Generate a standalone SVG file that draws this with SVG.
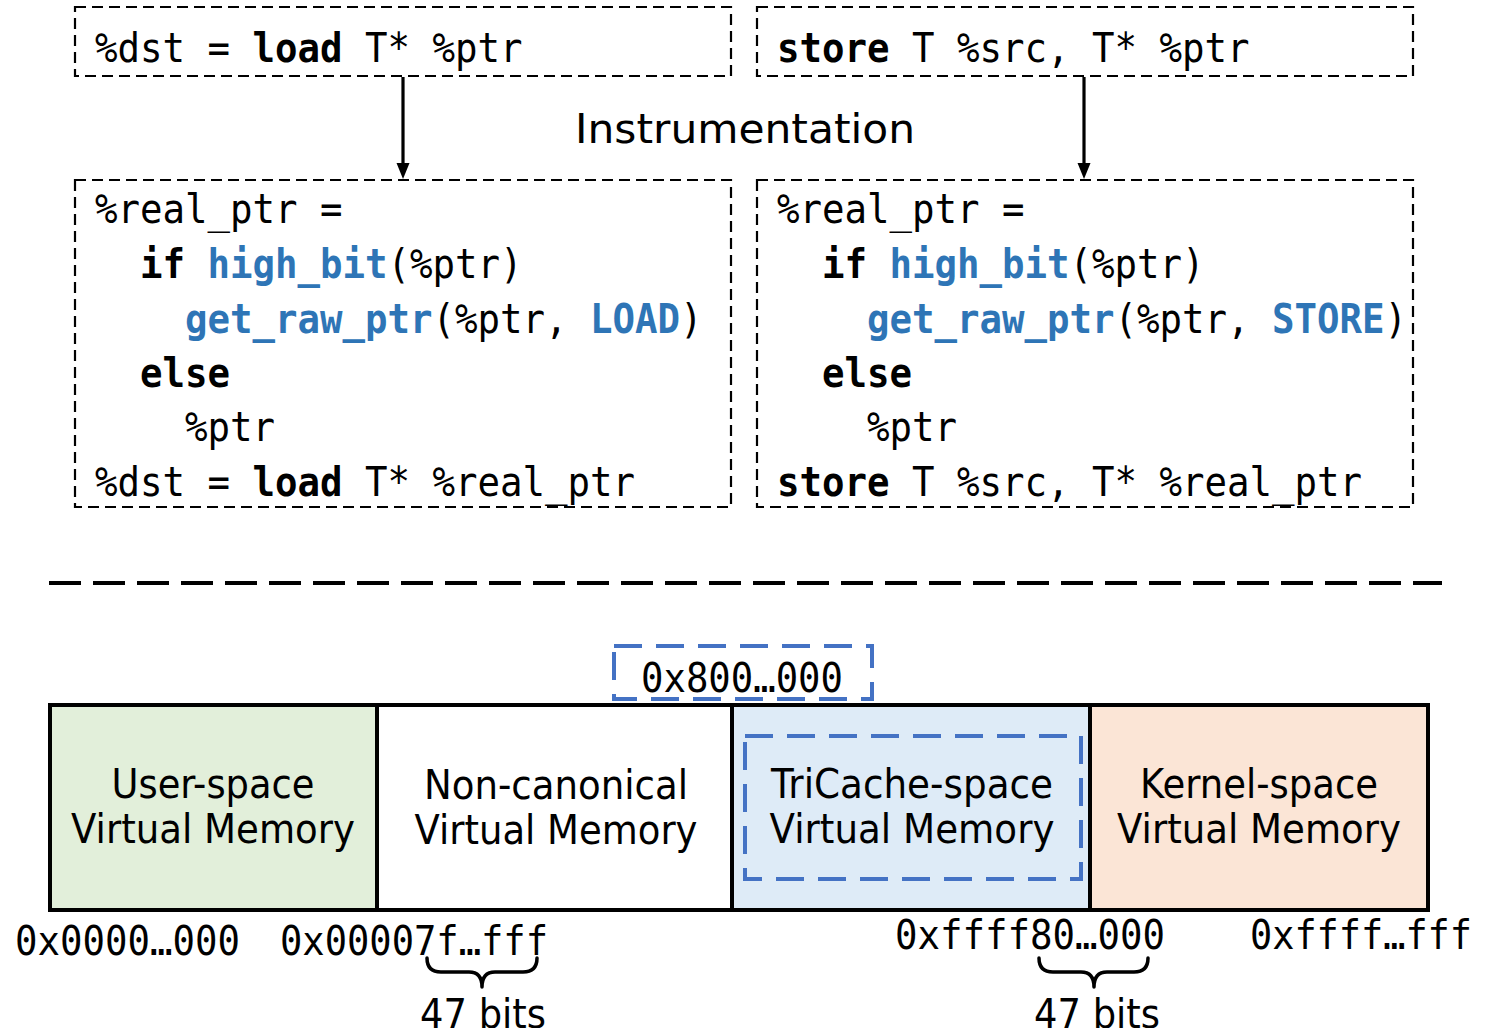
<svg xmlns="http://www.w3.org/2000/svg" width="1488" height="1028" viewBox="0 0 1488 1028">
  <defs>
    <style>
      .code { font-family: "DejaVu Sans Mono", "Liberation Mono", monospace; font-size: 40px; fill: #000; }
      .b { font-weight: bold; }
      .fn { font-weight: bold; fill: #2e75b6; }
      .lbl { font-family: "DejaVu Sans", "Noto Sans", sans-serif; font-size: 40px; fill: #000; text-anchor: middle; }
      .hex { font-family: "DejaVu Sans Mono", "Liberation Mono", monospace; font-size: 40px; fill: #000; }
      .dbox { fill: none; stroke: #000; stroke-width: 2.2; stroke-dasharray: 11 6; }
      .bluedash { fill: none; stroke: #4472c4; stroke-width: 4; stroke-dasharray: 28 14; }
      .brace { fill: none; stroke: #000; stroke-width: 3.5; stroke-linecap: round; stroke-linejoin: round; }
      .conn { stroke: #000; stroke-width: 3.2; }
    </style>
  </defs>

  <!-- original load instruction -->
  <g id="load-orig">
    <rect class="dbox" x="75" y="7" width="656" height="69"/>
    <text class="code" x="95" y="62" textLength="427.5" lengthAdjust="spacingAndGlyphs">%dst = <tspan class="b">load</tspan> T* %ptr</text>
  </g>

  <!-- original store instruction -->
  <g id="store-orig">
    <rect class="dbox" x="757" y="7" width="656" height="69"/>
    <text class="code" x="777" y="62" textLength="472.5" lengthAdjust="spacingAndGlyphs"><tspan class="b">store</tspan> T %src, T* %ptr</text>
  </g>

  <g id="instrumentation-label">
    <text class="lbl" x="745" y="143" font-size="44" textLength="340" lengthAdjust="spacingAndGlyphs">Instrumentation</text>
  </g>

  <!-- instrumented load -->
  <g id="load-instr">
    <rect class="dbox" x="75" y="180" width="656" height="327"/>
    <text class="code" x="95" y="223" textLength="247.5" lengthAdjust="spacingAndGlyphs">%real_ptr =</text>
    <text class="code" x="140" y="278" textLength="382.5" lengthAdjust="spacingAndGlyphs"><tspan class="b">if</tspan> <tspan class="fn">high_bit</tspan>(%ptr)</text>
    <text class="code" x="185" y="333" textLength="517.5" lengthAdjust="spacingAndGlyphs"><tspan class="fn">get_raw_ptr</tspan>(%ptr, <tspan class="fn">LOAD</tspan>)</text>
    <text class="code b" x="140" y="387" textLength="90" lengthAdjust="spacingAndGlyphs">else</text>
    <text class="code" x="185" y="441" textLength="90" lengthAdjust="spacingAndGlyphs">%ptr</text>
    <text class="code" x="95" y="496" textLength="540" lengthAdjust="spacingAndGlyphs">%dst = <tspan class="b">load</tspan> T* %real_ptr</text>
  </g>

  <!-- instrumented store -->
  <g id="store-instr">
    <rect class="dbox" x="757" y="180" width="656" height="327"/>
    <text class="code" x="777" y="223" textLength="247.5" lengthAdjust="spacingAndGlyphs">%real_ptr =</text>
    <text class="code" x="822" y="278" textLength="382.5" lengthAdjust="spacingAndGlyphs"><tspan class="b">if</tspan> <tspan class="fn">high_bit</tspan>(%ptr)</text>
    <text class="code" x="867" y="333" textLength="540" lengthAdjust="spacingAndGlyphs"><tspan class="fn">get_raw_ptr</tspan>(%ptr, <tspan class="fn">STORE</tspan>)</text>
    <text class="code b" x="822" y="387" textLength="90" lengthAdjust="spacingAndGlyphs">else</text>
    <text class="code" x="867" y="441" textLength="90" lengthAdjust="spacingAndGlyphs">%ptr</text>
    <text class="code" x="777" y="496" textLength="585" lengthAdjust="spacingAndGlyphs"><tspan class="b">store</tspan> T %src, T* %real_ptr</text>
  </g>

  <!-- connectors -->
  <g id="connectors">
    <line class="conn" x1="403" y1="77" x2="403" y2="165"/>
    <path d="M396.5,163 L409.5,163 L403,179 Z" fill="#000"/>
    <line class="conn" x1="1084" y1="77" x2="1084" y2="165"/>
    <path d="M1077.5,163 L1090.5,163 L1084,179 Z" fill="#000"/>
  </g>

  <!-- section separator -->
  <line id="separator" x1="49" y1="583" x2="1442" y2="583" stroke="#000" stroke-width="4" stroke-dasharray="32 12"/>

  <!-- address space bar -->
  <g id="user-space">
    <rect x="50" y="705" width="327" height="205" fill="#e2efda" stroke="#000" stroke-width="4"/>
    <text class="lbl" x="213" y="798" textLength="203" lengthAdjust="spacingAndGlyphs">User-space</text>
    <text class="lbl" x="213" y="843" textLength="284" lengthAdjust="spacingAndGlyphs">Virtual Memory</text>
  </g>
  <g id="non-canonical">
    <rect x="377" y="705" width="355" height="205" fill="#ffffff" stroke="#000" stroke-width="4"/>
    <text class="lbl" x="556" y="799" textLength="264" lengthAdjust="spacingAndGlyphs">Non-canonical</text>
    <text class="lbl" x="556" y="844" textLength="283" lengthAdjust="spacingAndGlyphs">Virtual Memory</text>
  </g>
  <g id="tricache-space">
    <rect x="732" y="705" width="358" height="205" fill="#deebf7" stroke="#000" stroke-width="4"/>
    <rect class="bluedash" x="745" y="736" width="336" height="143"/>
    <text class="lbl" x="912" y="798" textLength="282" lengthAdjust="spacingAndGlyphs">TriCache-space</text>
    <text class="lbl" x="912" y="843" textLength="285" lengthAdjust="spacingAndGlyphs">Virtual Memory</text>
  </g>
  <g id="kernel-space">
    <rect x="1090" y="705" width="338" height="205" fill="#fbe5d6" stroke="#000" stroke-width="4"/>
    <text class="lbl" x="1259" y="798" textLength="238" lengthAdjust="spacingAndGlyphs">Kernel-space</text>
    <text class="lbl" x="1259" y="843" textLength="284" lengthAdjust="spacingAndGlyphs">Virtual Memory</text>
  </g>

  <!-- high-bit marker -->
  <g id="high-bit-addr">
    <rect class="bluedash" x="614" y="646" width="258" height="53" stroke-dasharray="30 13"/>
    <text class="hex" x="641" y="692" textLength="202" lengthAdjust="spacingAndGlyphs">0x800…000</text>
  </g>

  <!-- boundary addresses -->
  <g id="addresses">
    <text class="hex" x="15" y="955" textLength="225" lengthAdjust="spacingAndGlyphs">0x0000…000</text>
    <text class="hex" x="280" y="955" textLength="268" lengthAdjust="spacingAndGlyphs">0x00007f…fff</text>
    <text class="hex" x="895" y="949" textLength="270" lengthAdjust="spacingAndGlyphs">0xffff80…000</text>
    <text class="hex" x="1250" y="949" textLength="222" lengthAdjust="spacingAndGlyphs">0xffff…fff</text>
  </g>

  <!-- bit-width braces -->
  <g id="brace-user">
    <path class="brace" d="M427,958 Q427,972 441,972 L469,972 Q482,972 482,987 Q482,972 495,972 L523,972 Q537,972 537,958"/>
    <text class="lbl" x="483" y="1028" textLength="126" lengthAdjust="spacingAndGlyphs">47 bits</text>
  </g>
  <g id="brace-kernel">
    <path class="brace" d="M1039,958 Q1039,972 1053,972 L1081,972 Q1094,972 1094,987 Q1094,972 1107,972 L1134,972 Q1148,972 1148,958"/>
    <text class="lbl" x="1097" y="1028" textLength="126" lengthAdjust="spacingAndGlyphs">47 bits</text>
  </g>
</svg>
